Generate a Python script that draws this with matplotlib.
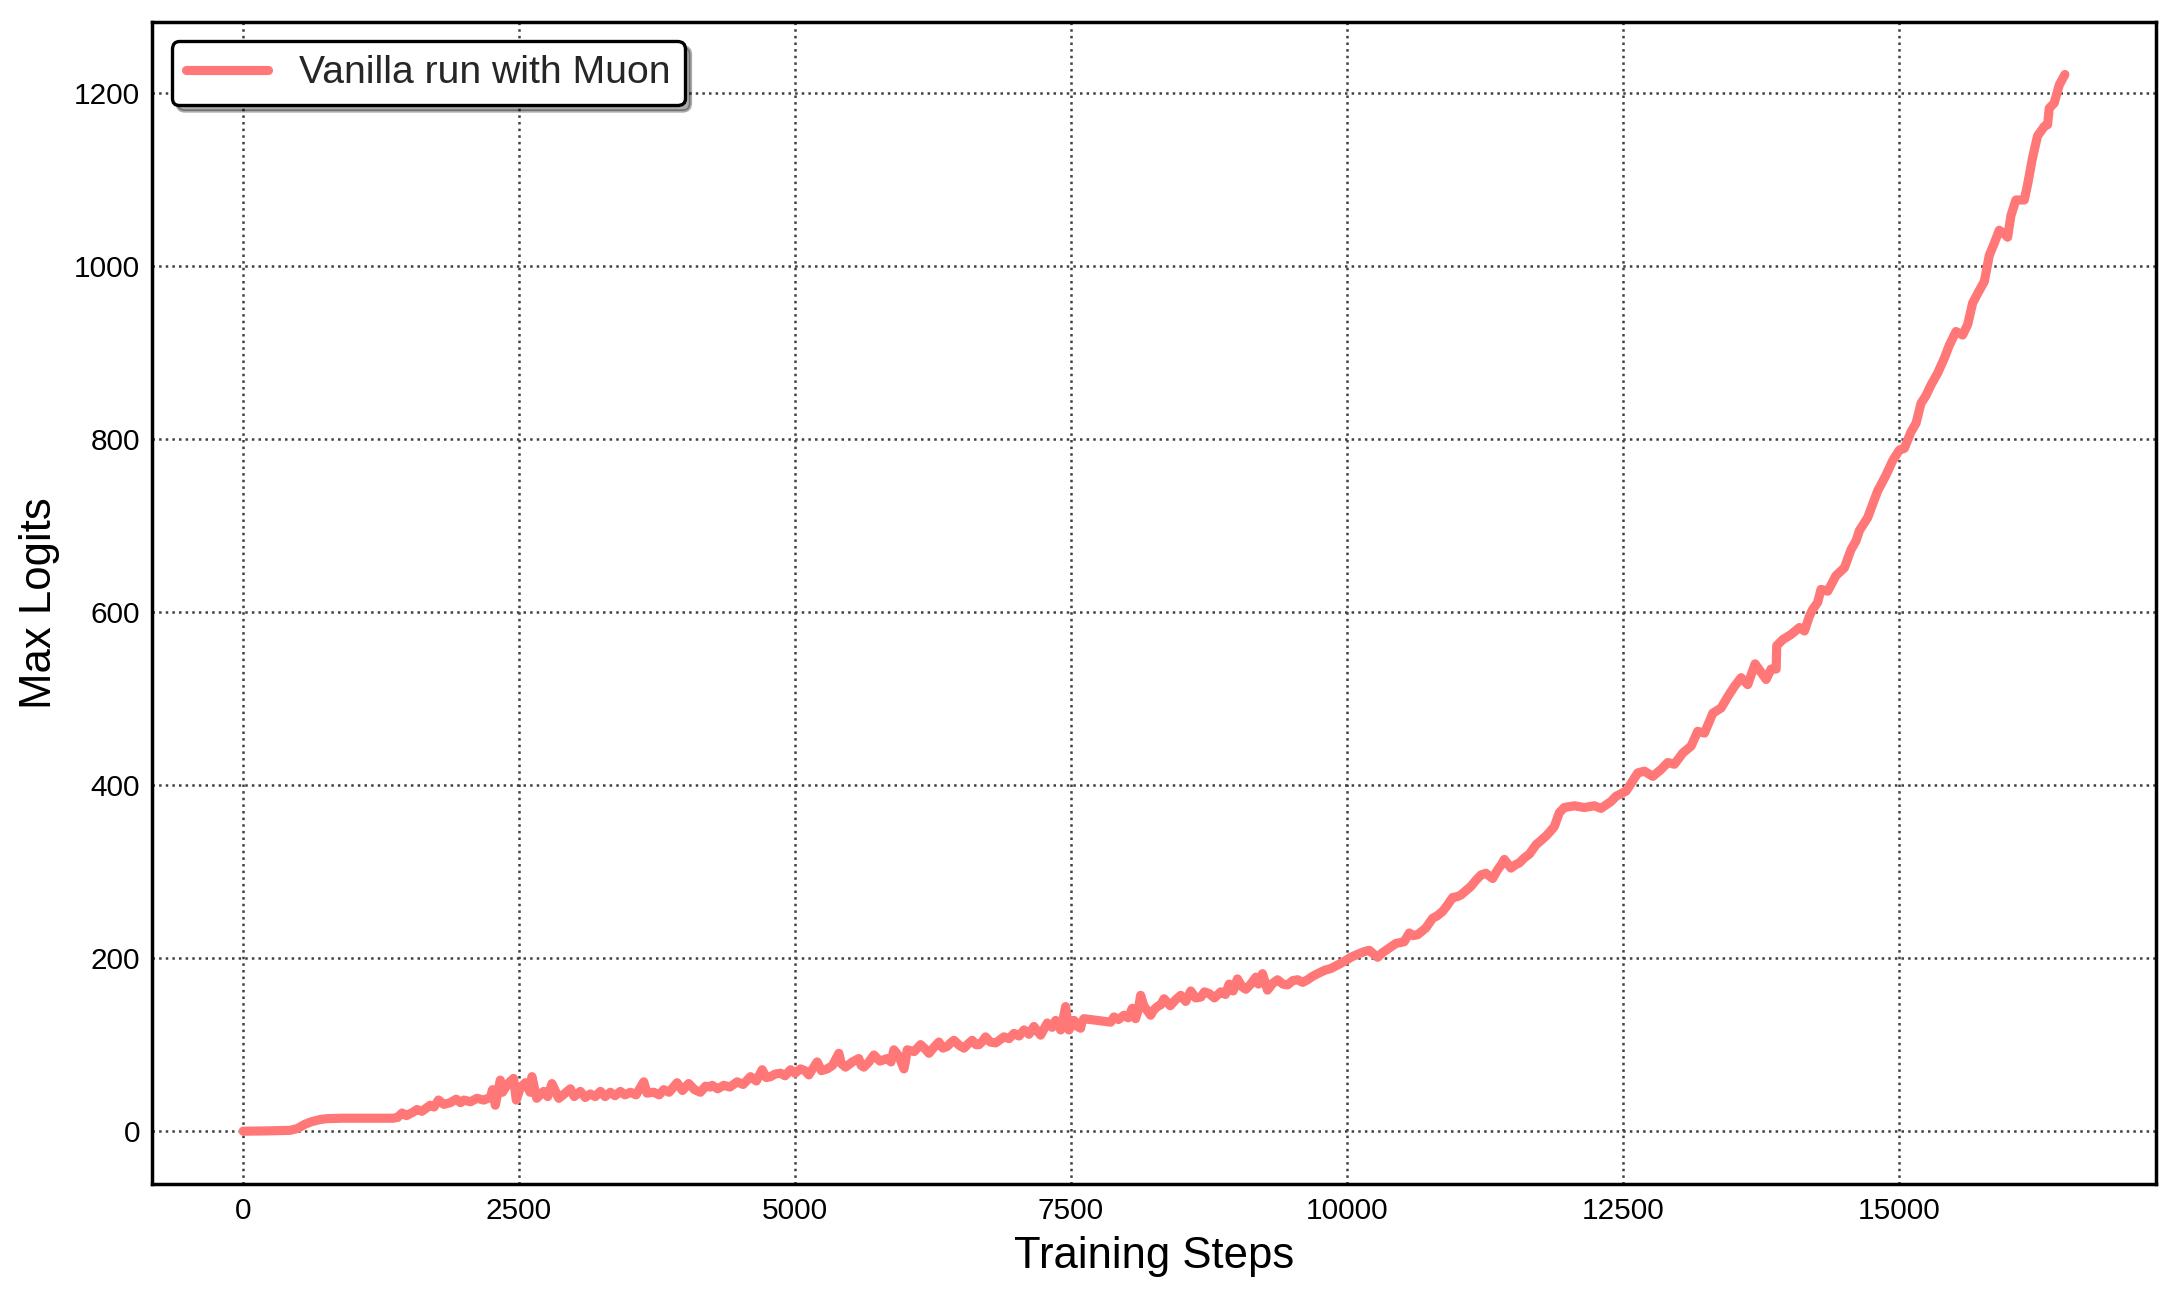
import matplotlib
matplotlib.use("Agg")
import matplotlib.pyplot as plt

plt.rcParams['font.family'] = ['Liberation Sans', 'DejaVu Sans']

series_label = "Vanilla run with Muon"
x_label = "Training Steps"
y_label = "Max Logits"
x_ticks = [0, 2500, 5000, 7500, 10000, 12500, 15000]
y_ticks = [0, 200, 400, 600, 800, 1000, 1200]

steps = [
    0, 200, 425, 490, 560, 620, 700, 760, 900, 1100, 1360, 1400, 1440, 1480, 1540, 1575, 1620, 1695, 1730, 1770,
    1820, 1877, 1930, 1970, 2000, 2060, 2118, 2180, 2240, 2260, 2285, 2330, 2350, 2400, 2450, 2475, 2510, 2557,
    2600, 2617, 2660, 2723, 2760, 2798, 2860, 2900, 2965, 3000, 3055, 3100, 3146, 3190, 3237, 3280, 3327, 3370,
    3418, 3460, 3509, 3560, 3630, 3660, 3720, 3770, 3811, 3860, 3932, 3980, 4037, 4090, 4143, 4190, 4234,
    4249, 4300, 4355, 4410, 4476, 4530, 4597, 4650, 4703, 4740, 4779, 4820, 4869, 4910, 4960, 5000, 5050, 5090,
    5126, 5160, 5201, 5240, 5292, 5340, 5398, 5420, 5458, 5520, 5578, 5600, 5624, 5670, 5715, 5770, 5836, 5870,
    5896, 5940, 5987, 6000, 6017, 6080, 6138, 6180, 6214, 6260, 6304, 6340, 6380, 6410, 6440, 6490, 6531, 6570,
    6606, 6640, 6667, 6700, 6727, 6770, 6818, 6860, 6893, 6940, 6984, 7030, 7075, 7120, 7165, 7200, 7226, 7260,
    7286, 7330, 7362, 7390, 7407, 7430, 7452, 7470, 7482, 7510, 7528, 7560, 7588, 7600, 7618, 7860, 7890, 7930,
    7981, 8020, 8056, 8070, 8086, 8110, 8132, 8160, 8222, 8250, 8283, 8313,
    8344, 8400, 8450, 8495, 8540, 8586, 8630, 8677, 8710, 8752, 8800, 8858, 8900, 8934, 8970, 9009, 9050, 9085,
    9130, 9176, 9200, 9236, 9260, 9281, 9330, 9372, 9420, 9463, 9510, 9554, 9600, 9644, 9690, 9735, 9800, 9856,
    9900, 9946, 10000, 10037, 10090, 10128, 10170, 10203, 10240, 10279, 10320, 10354, 10400, 10445, 10490, 10520,
    10566, 10600, 10641, 10680, 10717, 10777, 10820, 10868, 10910, 10958, 11000, 11034, 11080, 11125, 11170, 11215,
    11260, 11321, 11366, 11400, 11427, 11487, 11530, 11563, 11610, 11653, 11714, 11760, 11804, 11840, 11880, 11925,
    11970, 12061, 12152, 12242, 12303,
    12394, 12439, 12530, 12580, 12636, 12696, 12772, 12847, 12908, 12968, 13044, 13119, 13179, 13240, 13316, 13391,
    13451, 13512, 13572, 13632, 13699, 13799, 13844, 13890, 13895, 13950, 14025, 14101, 14146, 14191, 14221, 14266,
    14296, 14357, 14432, 14508, 14568, 14613, 14644, 14719, 14810, 14885, 14946, 15006,
    15051, 15111, 15157, 15202, 15247, 15292, 15353, 15413, 15458, 15519, 15579, 15625, 15670, 15716, 15776, 15821,
    15866, 15911, 15957, 15987, 16017, 16062, 16138, 16168, 16213, 16258, 16319, 16349, 16364, 16409, 16455, 16506,
]

max_logits = [
    0, 0.3, 1, 3, 8, 11, 13.5, 14.5, 15, 15, 15, 16, 21, 18, 22, 25, 23, 30, 28, 36,
    31, 33, 37, 33, 36, 34, 38, 36, 39, 48, 30, 59, 45, 55, 61, 36, 50, 56,
    45, 63, 38, 46, 40, 55, 38, 42, 49, 40, 46, 39, 43, 40, 46, 40, 45, 41,
    46, 42, 45, 42, 57, 44, 45, 42, 48, 45, 56, 47, 55, 48, 45, 52, 51,
    53, 49, 53, 51, 57, 54, 63, 58, 71, 62, 63, 66, 67, 64, 71, 67, 72, 70,
    65, 72, 80, 70, 72, 76, 90, 78, 74, 80, 84, 76, 74, 80, 88, 81, 84, 80,
    94, 87, 72, 80, 94, 92, 100, 95, 90, 97, 103, 96, 98, 102, 105, 99, 96, 101,
    105, 100, 100, 104, 109, 103, 102, 106, 109, 107, 113, 110, 117, 112, 121, 115, 111, 119,
    125, 120, 128, 122, 117, 130, 144, 125, 117, 124, 128, 121, 119, 126, 130, 126, 132, 129,
    134, 131, 142, 136, 130, 140, 157, 145, 134, 140, 144, 146,
    153, 145, 152, 157, 150, 162, 154, 155, 161, 159, 154, 161, 158, 170, 162, 176, 167, 164,
    170, 178, 170, 182, 172, 163, 171, 175, 170, 169, 174, 175, 172, 175, 179, 182, 186, 188,
    191, 194, 198, 201, 204, 206, 208, 209, 205, 201, 206, 209, 213, 217, 218, 219,
    229, 226, 227, 231, 235, 246, 249, 254, 261, 270, 271, 273, 278, 283, 290, 296,
    298, 292, 302, 308, 314, 304, 308, 310, 316, 320, 331, 336, 341, 346, 352, 368,
    374, 376, 374, 376, 373,
    381, 387, 393, 403, 414, 416, 410, 418, 426, 424, 437, 445, 462, 460, 483, 489,
    502, 514, 524, 516, 540, 522, 534, 534, 561, 568, 574, 582, 578, 595, 603, 611,
    626, 624, 642, 651, 672, 682, 694, 709, 740, 758, 775, 787,
    789, 808, 818, 841, 850, 862, 876, 893, 908, 924, 920, 932, 957, 968, 982, 1012,
    1026, 1041, 1037, 1033, 1058, 1076, 1076, 1094, 1125, 1150, 1161, 1163, 1182, 1188, 1209, 1221,
]

fig = plt.figure(figsize=(10.89, 6.485), dpi=200)
ax = fig.add_axes([0.0698, 0.0871, 0.9201, 0.8962])

ax.plot(steps, max_logits, color='#ff7777', linewidth=3.3, label=series_label,
        solid_capstyle='round', solid_joinstyle='round')

ax.set_xticks(x_ticks)
ax.set_yticks(y_ticks)
ax.grid(True, linestyle=':', color='#404040', linewidth=0.9)
ax.set_axisbelow(True)
ax.tick_params(axis='both', length=0, labelsize=10.7, colors='black')
ax.tick_params(axis='x', pad=4.5)
ax.tick_params(axis='y', pad=4.2)
for sp in ax.spines.values():
    sp.set_linewidth(1.25)
    sp.set_color('black')

ax.set_xlabel(x_label, fontsize=15.7, color='black', labelpad=4)
ax.set_ylabel(y_label, fontsize=15.7, color='black', labelpad=5)

leg = ax.legend(loc='upper left', fontsize=14.1, shadow={'color': 'black', 'alpha': 0.33},
                fancybox=True, framealpha=1, handlelength=2.1, borderpad=0.36)
leg.get_frame().set_edgecolor('black')
leg.get_frame().set_linewidth(1.2)
for t in leg.get_texts():
    t.set_color('#262626')

fig.savefig('out.png', dpi=200)
